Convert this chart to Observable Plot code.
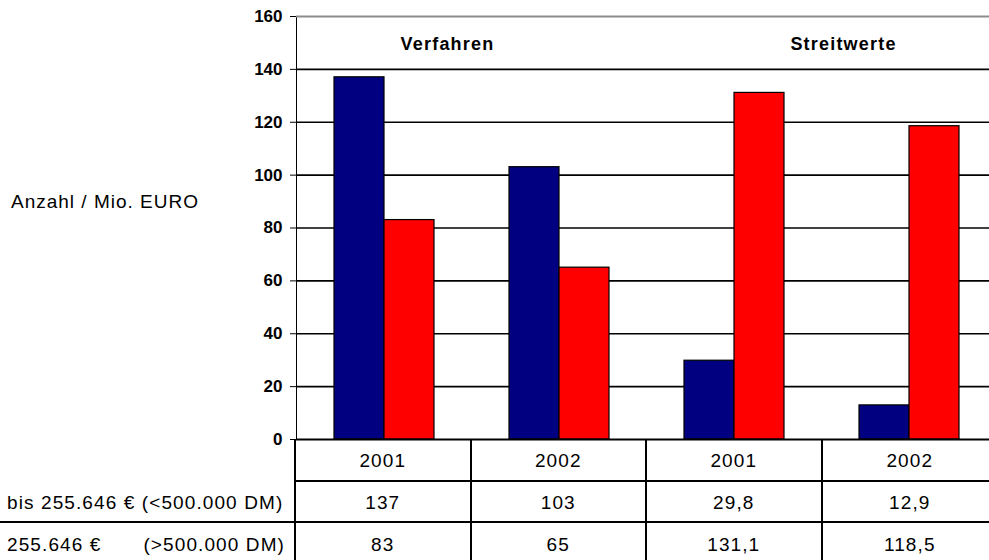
<!DOCTYPE html>
<html>
<head>
<meta charset="utf-8">
<script src="https://cdn.jsdelivr.net/npm/d3@7"></script>
<script src="https://cdn.jsdelivr.net/npm/@observablehq/plot@0.6"></script>
<style>
  html, body { margin: 0; padding: 0; background: #fff; overflow: hidden; }
  body { width: 989px; height: 560px; position: relative; font-family: "Liberation Sans", Arial, sans-serif; }
  #chart { position: absolute; left: 0; top: 0; }
  #ytitle { position: absolute; left: 11px; top: 191px; font-size: 19px; letter-spacing: 1px; color: #000; white-space: nowrap; }
  #tbl { position: absolute; left: 0; top: 439px; border-collapse: collapse; table-layout: fixed; width: 997px; font-size: 19px; letter-spacing: 1.1px; color: #000; }
  #tbl td { padding: 3px 0 0 0; text-align: center; vertical-align: middle; white-space: nowrap; }
  #tbl td.lbl { text-align: left; padding-left: 7px; padding-right: 9px; }
  #tbl td.data { border-left: 2px solid #000; }
  #tbl tr.r0 td, #tbl tr.r1 td { border-bottom: 2px solid #000; }
  #tbl tr.r0 { height: 42px; }
  #tbl tr.r1 { height: 41px; }
  #tbl tr.r2 { height: 41px; }
  .split { display: flex; justify-content: space-between; }
</style>
</head>
<body>
<div id="chart"></div>
<div id="ytitle"></div>
<table id="tbl"></table>
<script>
// ---- data ----
const categories = ["Verfahren 2001", "Verfahren 2002", "Streitwerte 2001", "Streitwerte 2002"];
const years = ["2001", "2002", "2001", "2002"];
const seriesKeys = ["bis", "ueber"];
const seriesLabelLeft = ["bis 255.646 € (<500.000 DM)", "255.646 €"];
const seriesLabelRight = ["", "(>500.000 DM)"];
const bisValues = [137, 103, 29.8, 12.9];
const ueberValues = [83, 65, 131.1, 118.5];
const yTicks = [0, 20, 40, 60, 80, 100, 120, 140, 160];
const groupTitles = ["Verfahren", "Streitwerte"];
const groupCategories = ["Verfahren 2001", "Streitwerte 2001"];
const yTitle = "Anzahl / Mio. EURO";
const seriesColors = ["#000080", "#ff0000"];

// ---- build table for plot ----
const rows = [];
categories.forEach((c, i) => {
  rows.push({cat: c, series: seriesKeys[0], value: bisValues[i]});
  rows.push({cat: c, series: seriesKeys[1], value: ueberValues[i]});
});
const titles = groupTitles.map((t, i) => ({cat: groupCategories[i], label: t}));

const plot = Plot.plot({
  width: 997,
  height: 440,
  marginLeft: 295,
  marginRight: 0,
  marginTop: 16,
  marginBottom: 1,
  style: {fontFamily: "'Liberation Sans', Arial, sans-serif", fontSize: "17px", fontWeight: "bold", maxWidth: "none", overflow: "visible", background: "#fff", color: "#000"},
  fx: {domain: categories, padding: 0, axis: null},
  x: {domain: seriesKeys, paddingInner: 0, paddingOuter: 0.72, axis: null},
  y: {domain: [0, 160], ticks: yTicks, tickSize: 6, tickPadding: 8, line: true, label: null, tickFormat: d => String(d)},
  color: {domain: seriesKeys, range: seriesColors},
  marks: [
    Plot.ruleY(yTicks.filter(t => t > 0 && t < 160), {stroke: "#000", strokeWidth: 1.6}),
    Plot.ruleY([160], {stroke: "#8c8c8c", strokeWidth: 1.8}),
    Plot.barY(rows, {fx: "cat", x: "series", y: "value", fill: "series", stroke: "#000", strokeWidth: 1.2}),
    Plot.ruleY([0], {stroke: "#000", strokeWidth: 1.8}),
    Plot.text(titles.filter(d => d.label === groupTitles[0]), {fx: "cat", x: () => seriesKeys[1], frameAnchor: "top", dy: 21, dx: 38, text: "label", fontSize: 18, fontWeight: "bold", fill: "#000"}),
    Plot.text(titles.filter(d => d.label === groupTitles[1]), {fx: "cat", x: () => seriesKeys[1], frameAnchor: "top", dy: 21, dx: 84, text: "label", fontSize: 18, fontWeight: "bold", fill: "#000"})
  ]
});
d3.select(plot).selectAll('g[aria-label="text"] text').attr("letter-spacing", "1.2px");
d3.select(plot).selectAll('g[aria-label="y-axis tick label"] text').attr("fill", "#000");
document.getElementById("chart").appendChild(plot);

document.getElementById("ytitle").textContent = yTitle;

// ---- data table below ----
const fmt = v => String(v).replace(".", ",");
const tbl = d3.select("#tbl");
const cg = tbl.append("colgroup");
cg.append("col").style("width", "295px");
categories.forEach(() => cg.append("col").style("width", "175.5px"));
const r0 = tbl.append("tr").attr("class", "r0");
r0.append("td").style("border-bottom", "none");
years.forEach(y => r0.append("td").attr("class", "data").text(y));
[bisValues, ueberValues].forEach((vals, si) => {
  const tr = tbl.append("tr").attr("class", "r" + (si + 1));
  const lbl = tr.append("td").attr("class", "lbl");
  if (seriesLabelRight[si]) {
    const d = lbl.append("div").attr("class", "split");
    d.append("span").text(seriesLabelLeft[si]);
    d.append("span").text(seriesLabelRight[si]);
  } else {
    lbl.text(seriesLabelLeft[si]);
  }
  vals.forEach(v => tr.append("td").attr("class", "data").text(fmt(v)));
});
</script>
</body>
</html>
